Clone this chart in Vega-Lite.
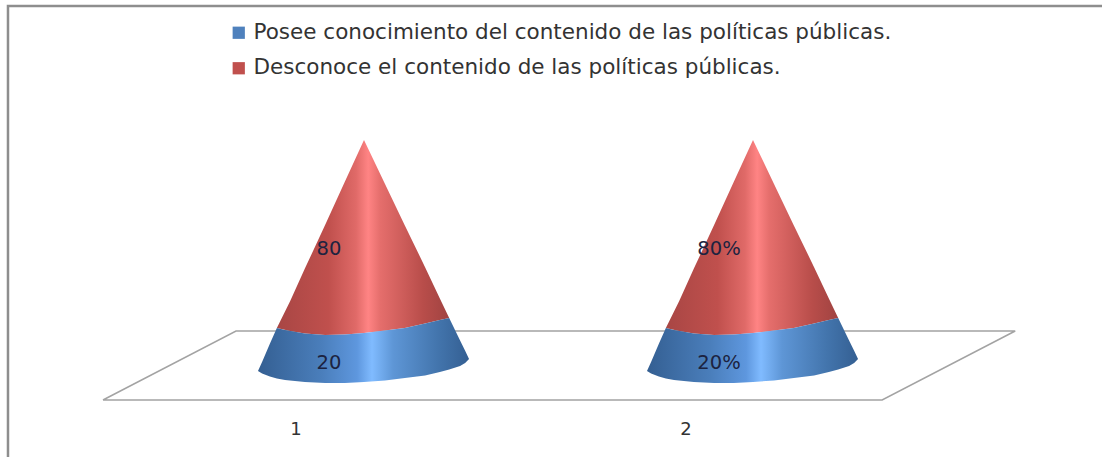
{
"$schema":"https://vega.github.io/schema/vega-lite/v6.json",
"autosize":{"type":"fit","contains":"padding"},
"width":1102,"height":457,"padding":0,"background":"#ffffff",
"config":{"view":{"stroke":null}},
"datasets":{
"rojo":[
{"cono":1,"pos":0.776,"top":16.44,"bottom":16.44},{"cono":1,"pos":0.810,"top":28.36,"bottom":15.11},{"cono":1,"pos":0.848,"top":42.84,"bottom":14},{"cono":1,"pos":0.900,"top":62.2,"bottom":13.33},{"cono":1,"pos":0.951,"top":81.6,"bottom":13.56},{"cono":1,"pos":1.0,"top":100,"bottom":14.22},{"cono":1,"pos":1.054,"top":80.5,"bottom":15.33},{"cono":1,"pos":1.105,"top":62.0,"bottom":16.44},{"cono":1,"pos":1.157,"top":43.5,"bottom":18.44},{"cono":1,"pos":1.195,"top":29.6,"bottom":20},{"cono":1,"pos":1.219,"top":20.89,"bottom":20.89},
{"cono":2,"pos":1.776,"top":16.44,"bottom":16.44},{"cono":2,"pos":1.810,"top":28.36,"bottom":15.11},{"cono":2,"pos":1.848,"top":42.84,"bottom":14},{"cono":2,"pos":1.900,"top":62.2,"bottom":13.33},{"cono":2,"pos":1.951,"top":81.6,"bottom":13.56},{"cono":2,"pos":2.0,"top":100,"bottom":14.22},{"cono":2,"pos":2.054,"top":80.5,"bottom":15.33},{"cono":2,"pos":2.105,"top":62.0,"bottom":16.44},{"cono":2,"pos":2.157,"top":43.5,"bottom":18.44},{"cono":2,"pos":2.195,"top":29.6,"bottom":20},{"cono":2,"pos":2.219,"top":20.89,"bottom":20.89}
],
"azul":[
{"cono":1,"pos":0.7275,"top":-2.67,"bottom":-2.67},{"cono":1,"pos":0.738,"top":1.33,"bottom":-3.78},{"cono":1,"pos":0.758,"top":9.42,"bottom":-5.11},{"cono":1,"pos":0.776,"top":16.44,"bottom":-6},{"cono":1,"pos":0.797,"top":15.6,"bottom":-6.67},{"cono":1,"pos":0.848,"top":14,"bottom":-7.56},{"cono":1,"pos":0.900,"top":13.33,"bottom":-8},{"cono":1,"pos":0.951,"top":13.56,"bottom":-8},{"cono":1,"pos":1.0,"top":14.22,"bottom":-7.56},{"cono":1,"pos":1.054,"top":15.33,"bottom":-6.89},{"cono":1,"pos":1.105,"top":16.44,"bottom":-5.78},{"cono":1,"pos":1.157,"top":18.44,"bottom":-4.67},{"cono":1,"pos":1.195,"top":20,"bottom":-3.11},{"cono":1,"pos":1.219,"top":20.89,"bottom":-2},{"cono":1,"pos":1.247,"top":10.87,"bottom":-0.44},{"cono":1,"pos":1.26,"top":6.31,"bottom":0.89},{"cono":1,"pos":1.270,"top":2.67,"bottom":2.67},
{"cono":2,"pos":1.7275,"top":-2.67,"bottom":-2.67},{"cono":2,"pos":1.738,"top":1.33,"bottom":-3.78},{"cono":2,"pos":1.758,"top":9.42,"bottom":-5.11},{"cono":2,"pos":1.776,"top":16.44,"bottom":-6},{"cono":2,"pos":1.797,"top":15.6,"bottom":-6.67},{"cono":2,"pos":1.848,"top":14,"bottom":-7.56},{"cono":2,"pos":1.900,"top":13.33,"bottom":-8},{"cono":2,"pos":1.951,"top":13.56,"bottom":-8},{"cono":2,"pos":2.0,"top":14.22,"bottom":-7.56},{"cono":2,"pos":2.054,"top":15.33,"bottom":-6.89},{"cono":2,"pos":2.105,"top":16.44,"bottom":-5.78},{"cono":2,"pos":2.157,"top":18.44,"bottom":-4.67},{"cono":2,"pos":2.195,"top":20,"bottom":-3.11},{"cono":2,"pos":2.219,"top":20.89,"bottom":-2},{"cono":2,"pos":2.247,"top":10.87,"bottom":-0.44},{"cono":2,"pos":2.26,"top":6.31,"bottom":0.89},{"cono":2,"pos":2.270,"top":2.67,"bottom":2.67}
],
"leyenda":[
{"tramo":"Posee conocimiento del contenido de las políticas públicas."},
{"tramo":"Desconoce el contenido de las políticas públicas."}
]
},
"layer":[
{"data":{"values":[{"s":"a","o":1,"pos":0.0848,"v":-40.89},{"s":"a","o":2,"pos":0.0848,"v":159.56},{"s":"a","o":3,"pos":2.8972,"v":159.56}]},
 "mark":{"type":"line","color":"#8e8e8e","strokeWidth":2.5,"clip":true},
 "encoding":{"x":{"field":"pos","type":"quantitative","scale":{"domain":[0.06427,2.89717],"nice":false,"zero":false},"axis":null},
  "y":{"field":"v","type":"quantitative","scale":{"domain":[-40.889,162.222],"nice":false,"zero":false},"axis":null},
  "order":{"field":"o"}}},
{"data":{"values":[{"o":1,"pos":0.329,"v":-15.56},{"o":2,"pos":0.671,"v":15.11},{"o":3,"pos":2.674,"v":15.11},{"o":4,"pos":2.332,"v":-15.56},{"o":5,"pos":0.329,"v":-15.56}]},
 "mark":{"type":"line","color":"#a3a3a3","strokeWidth":1.5},
 "encoding":{"x":{"field":"pos","type":"quantitative"},"y":{"field":"v","type":"quantitative"},"order":{"field":"o"}}},
{"data":{"name":"leyenda"},
 "mark":{"type":"square","size":144,"opacity":1,"filled":true,"clip":true},
 "encoding":{"x":{"datum":0},"y":{"datum":-100},
  "color":{"field":"tramo","type":"nominal","scale":{"domain":["Posee conocimiento del contenido de las políticas públicas.","Desconoce el contenido de las políticas públicas."],"range":["#4F81BD","#C0504D"]},
  "legend":{"title":null,"orient":"none","legendX":228,"legendY":22,"symbolType":"square","symbolSize":150,"symbolStrokeWidth":0,"symbolOpacity":1,"labelFont":"DejaVu Sans","labelFontSize":21.5,"labelColor":"#333333","labelLimit":800,"rowPadding":12.5,"labelOffset":4}}}},
{"data":{"name":"rojo"},
 "mark":{"type":"area","orient":"vertical","fill":{"gradient":"linear","x1":0,"y1":0,"x2":1,"y2":0,"stops":[{"offset":0,"color":"#a84644"},{"offset":0.3,"color":"#c0504d"},{"offset":0.46,"color":"#e06a68"},{"offset":0.53,"color":"#ff8484"},{"offset":0.6,"color":"#e56e6c"},{"offset":0.85,"color":"#b84d4a"},{"offset":1,"color":"#a04341"}]}},
 "encoding":{"x":{"field":"pos","type":"quantitative"},"y":{"field":"top","type":"quantitative"},"y2":{"field":"bottom"},"detail":{"field":"cono"}}},
{"data":{"name":"azul"},
 "mark":{"type":"area","orient":"vertical","fill":{"gradient":"linear","x1":0,"y1":0,"x2":1,"y2":0,"stops":[{"offset":0,"color":"#345f92"},{"offset":0.3,"color":"#4a7ebb"},{"offset":0.47,"color":"#5e97de"},{"offset":0.54,"color":"#80bbff"},{"offset":0.64,"color":"#5e96d6"},{"offset":0.85,"color":"#4375ad"},{"offset":1,"color":"#345f92"}]}},
 "encoding":{"x":{"field":"pos","type":"quantitative"},"y":{"field":"top","type":"quantitative"},"y2":{"field":"bottom"},"detail":{"field":"cono"}}},
{"data":{"values":[{"pos":0.91,"v":51.5,"t":"80"},{"pos":0.91,"v":0.9,"t":"20"},{"pos":1.9126,"v":51.5,"t":"80%"},{"pos":1.9126,"v":0.9,"t":"20%"}]},
 "mark":{"type":"text","font":"DejaVu Sans","fontSize":19.5,"color":"#1c2340","align":"center","baseline":"middle"},
 "encoding":{"x":{"field":"pos","type":"quantitative"},"y":{"field":"v","type":"quantitative"},"text":{"field":"t"}}},
{"data":{"values":[{"pos":0.8252,"v":-28.9,"t":"1"},{"pos":1.8277,"v":-28.9,"t":"2"}]},
 "mark":{"type":"text","font":"DejaVu Sans","fontSize":18,"color":"#333333","align":"center","baseline":"middle"},
 "encoding":{"x":{"field":"pos","type":"quantitative"},"y":{"field":"v","type":"quantitative"},"text":{"field":"t"}}}
],
"resolve":{"scale":{"x":"shared","y":"shared"}}
}
